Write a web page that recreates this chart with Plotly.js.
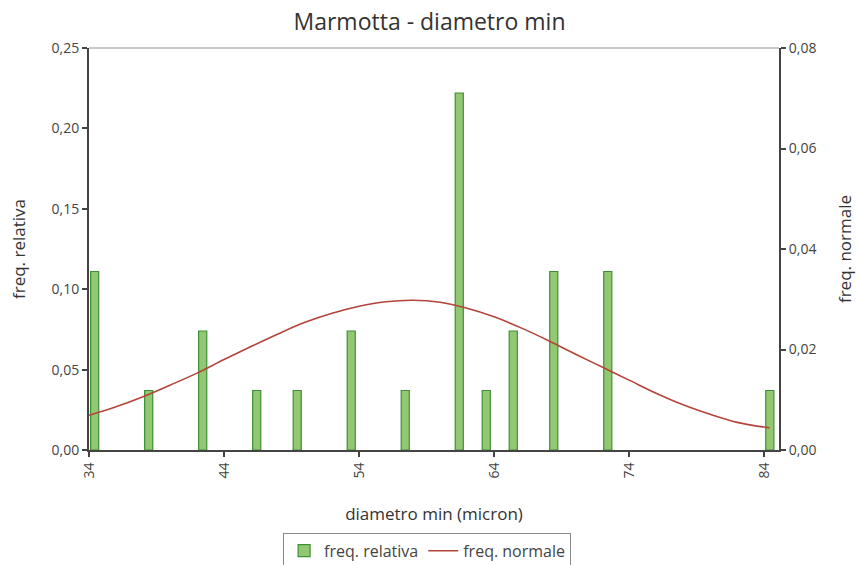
<!DOCTYPE html>
<html>
<head>
<meta charset="utf-8">
<script src="https://cdn.plot.ly/plotly-3.0.1.min.js"></script>
<style>html,body{margin:0;padding:0;background:#fff;}#chart{width:859px;height:565px;}</style>
</head>
<body>
<div id="chart"></div>
<script>
// Bars: diameter classes (micron) and relative frequency
const diametri = [34, 38, 42, 46, 49, 53, 57, 61, 63, 65, 68, 72, 84];
const freqRelativa = [0.111, 0.037, 0.074, 0.037, 0.037, 0.074, 0.037, 0.222, 0.037, 0.074, 0.111, 0.111, 0.037];

// Normal curve
const curvaX = [34, 36, 38, 40, 42, 44, 46, 48, 50, 52, 54, 56, 58, 60, 62, 64, 66, 68, 70, 72, 74, 76, 78, 80, 82, 84.4];
const freqNormale = [0.0069, 0.0086, 0.0106, 0.0129, 0.0153, 0.0180, 0.0206, 0.0231, 0.0254, 0.0272, 0.0286, 0.0295, 0.0298, 0.0294, 0.0282, 0.0265, 0.0243, 0.0218, 0.0191, 0.0165, 0.0139, 0.0113, 0.0090, 0.0071, 0.0055, 0.0044];

const xTicks = [34, 44, 54, 64, 74, 84];

const font = "'Open Sans', 'Noto Sans', sans-serif";
const axisCol = '#444';

const traces = [
  {
    type: 'bar',
    name: 'freq. relativa',
    x: diametri,
    y: freqRelativa,
    width: 0.6,
    offset: 0.12,
    marker: {color: '#93c873', line: {color: '#3f8f35', width: 1.2}},
    yaxis: 'y'
  },
  {
    type: 'scatter',
    mode: 'lines',
    name: 'freq. normale',
    x: curvaX,
    y: freqNormale,
    line: {color: '#b2443a', width: 1.6, shape: 'spline'},
    yaxis: 'y2'
  }
];

const tickFont = {family: font, size: 14, color: '#444'};
const titleFont = {family: font, size: 17, color: '#333'};

const layout = {
  width: 859,
  height: 565,
  margin: {l: 89, r: 80, t: 48, b: 115},
  paper_bgcolor: '#fff',
  plot_bgcolor: '#fff',
  separators: ',.',
  font: {family: font, size: 14, color: '#444'},
  title: {text: 'Marmotta - diametro min', x: 0.5, xanchor: 'center', y: 0.961, yanchor: 'middle', font: {family: font, size: 23, color: '#333'}},
  showlegend: true,
  legend: {
    orientation: 'h', x: 0.49, xanchor: 'center', yref: 'container', y: 0.057, yanchor: 'top',
    bordercolor: '#8a8a8a', borderwidth: 1, font: {family: font, size: 16, color: '#444'},
    itemwidth: 30
  },
  xaxis: {
    range: [34, 85.1],
    automargin: false,
    tickmode: 'array', tickvals: xTicks, ticktext: xTicks.map(String),
    tickangle: -90,
    showgrid: false, zeroline: false,
    showline: true, linecolor: axisCol, linewidth: 2,
    ticks: 'outside', ticklen: 5, tickcolor: axisCol, tickwidth: 2,
    tickfont: tickFont,
    title: {text: 'diametro min (micron)', standoff: 30, font: titleFont}
  },
  yaxis: {
    range: [0, 0.25], dtick: 0.05, tickformat: '.2f',
    automargin: false,
    showgrid: false, zeroline: false,
    showline: true, linecolor: axisCol, linewidth: 2,
    ticks: 'outside', ticklen: 5, tickcolor: axisCol, tickwidth: 2,
    tickfont: tickFont,
    title: {text: 'freq. relativa', standoff: 22, font: titleFont}
  },
  yaxis2: {
    range: [0, 0.08], dtick: 0.02, tickformat: '.2f',
    overlaying: 'y', side: 'right',
    automargin: false,
    showgrid: false, zeroline: false,
    showline: true, linecolor: axisCol, linewidth: 2,
    ticks: 'outside', ticklen: 5, tickcolor: axisCol, tickwidth: 2,
    tickfont: tickFont,
    title: {text: 'freq. normale', standoff: 24, font: titleFont}
  },
  shapes: [
    {type: 'line', xref: 'paper', yref: 'paper', x0: 0, x1: 1, y0: 1, y1: 1, line: {color: '#c8c8c8', width: 2}}
  ]
};

Plotly.newPlot('chart', traces, layout, {displayModeBar: false, staticPlot: true});
</script>
</body>
</html>
